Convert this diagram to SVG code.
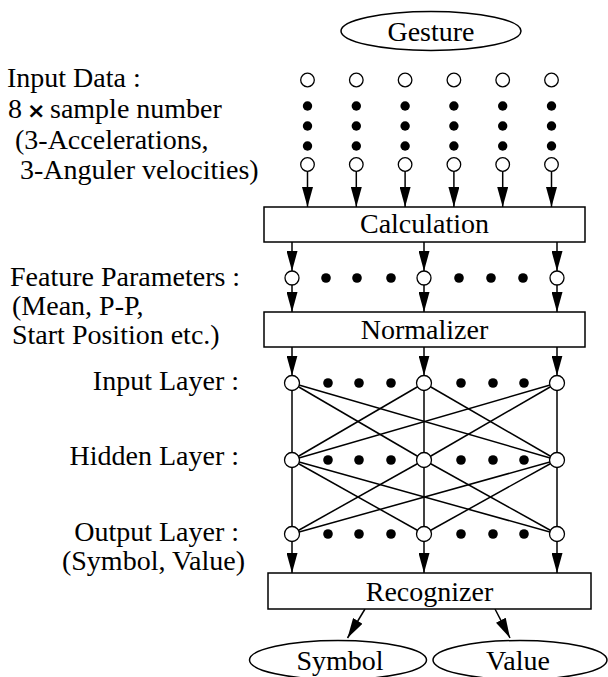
<svg xmlns="http://www.w3.org/2000/svg" width="608" height="677" viewBox="0 0 608 677">
<style>
text{font-family:"Liberation Serif","Times New Roman","DejaVu Serif",serif;font-size:28px;fill:#000}
.x{font-family:"DejaVu Sans",sans-serif;font-weight:bold;font-size:22px}
.c{text-anchor:middle}
.e{text-anchor:end}
.box{fill:#fff;stroke:#000;stroke-width:1.5}
.ell{fill:#fff;stroke:#000;stroke-width:1.5}
.o{fill:#fff;stroke:#000;stroke-width:1.3}
.d{fill:#000}
.ar{stroke:#000;stroke-width:1.5;fill:none;marker-end:url(#ah)}
.ln{stroke:#000;stroke-width:1.5;fill:none}
</style>
<defs>
<marker id="ah" markerUnits="userSpaceOnUse" markerWidth="20" markerHeight="11" refX="20" refY="5.5" orient="auto" viewBox="0 0 20 11">
<path d="M0,0 L20,5.5 L0,11 z" fill="#000"/>
</marker>
</defs>

<g id="labels">
<text x="7" y="87">Input Data :</text>
<text x="8" y="118">8<tspan class="x" x="27">×</tspan><tspan x="50">sample number</tspan></text>
<text x="15" y="149">(3-Accelerations,</text>
<text x="20" y="179">3-Anguler velocities)</text>
<text x="10" y="286">Feature Parameters :</text>
<text x="12" y="315">(Mean, P-P,</text>
<text x="12" y="344">Start Position etc.)</text>
<text class="e" x="239" y="390">Input Layer :</text>
<text class="e" x="239" y="465">Hidden Layer :</text>
<text class="e" x="239" y="541">Output Layer :</text>
<text class="e" x="245" y="570">(Symbol, Value)</text>
</g>

<g id="connectors">
<line class="ar" x1="307.5" y1="171" x2="307.5" y2="207"/>
<line class="ar" x1="356.3" y1="171" x2="356.3" y2="207"/>
<line class="ar" x1="405.1" y1="171" x2="405.1" y2="207"/>
<line class="ar" x1="453.9" y1="171" x2="453.9" y2="207"/>
<line class="ar" x1="502.7" y1="171" x2="502.7" y2="207"/>
<line class="ar" x1="551.5" y1="171" x2="551.5" y2="207"/>
<line class="ar" x1="292" y1="242" x2="292" y2="271"/>
<line class="ar" x1="424" y1="242" x2="424" y2="271"/>
<line class="ar" x1="557" y1="242" x2="557" y2="271"/>
<line class="ar" x1="292" y1="285" x2="292" y2="312"/>
<line class="ar" x1="424" y1="285" x2="424" y2="312"/>
<line class="ar" x1="557" y1="285" x2="557" y2="312"/>
<line class="ar" x1="292" y1="347" x2="292" y2="375.5"/>
<line class="ar" x1="424" y1="347" x2="424" y2="375.5"/>
<line class="ar" x1="557" y1="347" x2="557" y2="375.5"/>
<line class="ln" x1="292" y1="383" x2="292" y2="460"/>
<line class="ln" x1="292" y1="383" x2="424" y2="460"/>
<line class="ln" x1="292" y1="383" x2="557" y2="460"/>
<line class="ln" x1="424" y1="383" x2="292" y2="460"/>
<line class="ln" x1="424" y1="383" x2="424" y2="460"/>
<line class="ln" x1="424" y1="383" x2="557" y2="460"/>
<line class="ln" x1="557" y1="383" x2="292" y2="460"/>
<line class="ln" x1="557" y1="383" x2="424" y2="460"/>
<line class="ln" x1="557" y1="383" x2="557" y2="460"/>
<line class="ln" x1="292" y1="460" x2="292" y2="534"/>
<line class="ln" x1="292" y1="460" x2="424" y2="534"/>
<line class="ln" x1="292" y1="460" x2="557" y2="534"/>
<line class="ln" x1="424" y1="460" x2="292" y2="534"/>
<line class="ln" x1="424" y1="460" x2="424" y2="534"/>
<line class="ln" x1="424" y1="460" x2="557" y2="534"/>
<line class="ln" x1="557" y1="460" x2="292" y2="534"/>
<line class="ln" x1="557" y1="460" x2="424" y2="534"/>
<line class="ln" x1="557" y1="460" x2="557" y2="534"/>
<line class="ar" x1="292" y1="541" x2="292" y2="573"/>
<line class="ar" x1="424" y1="541" x2="424" y2="573"/>
<line class="ar" x1="557" y1="541" x2="557" y2="573"/>
<line class="ar" x1="365" y1="609" x2="347.5" y2="638"/>
<line class="ar" x1="495" y1="609" x2="510" y2="638"/>
</g>

<g id="gesture">
<ellipse class="ell" cx="431" cy="31" rx="90" ry="19.5"/>
<text class="c" x="431" y="41">Gesture</text>
</g>

<g id="input-data">
<g class="o">
<circle cx="307.5" cy="80" r="6.8"/><circle cx="356.3" cy="80" r="6.8"/><circle cx="405.1" cy="80" r="6.8"/>
<circle cx="453.9" cy="80" r="6.8"/><circle cx="502.7" cy="80" r="6.8"/><circle cx="551.5" cy="80" r="6.8"/>
<circle cx="307.5" cy="164.5" r="6.8"/><circle cx="356.3" cy="164.5" r="6.8"/><circle cx="405.1" cy="164.5" r="6.8"/>
<circle cx="453.9" cy="164.5" r="6.8"/><circle cx="502.7" cy="164.5" r="6.8"/><circle cx="551.5" cy="164.5" r="6.8"/>
</g>
<g class="d">
<circle cx="307.5" cy="106" r="4.7"/><circle cx="356.3" cy="106" r="4.7"/><circle cx="405.1" cy="106" r="4.7"/>
<circle cx="453.9" cy="106" r="4.7"/><circle cx="502.7" cy="106" r="4.7"/><circle cx="551.5" cy="106" r="4.7"/>
<circle cx="307.5" cy="126" r="4.7"/><circle cx="356.3" cy="126" r="4.7"/><circle cx="405.1" cy="126" r="4.7"/>
<circle cx="453.9" cy="126" r="4.7"/><circle cx="502.7" cy="126" r="4.7"/><circle cx="551.5" cy="126" r="4.7"/>
<circle cx="307.5" cy="146" r="4.7"/><circle cx="356.3" cy="146" r="4.7"/><circle cx="405.1" cy="146" r="4.7"/>
<circle cx="453.9" cy="146" r="4.7"/><circle cx="502.7" cy="146" r="4.7"/><circle cx="551.5" cy="146" r="4.7"/>
</g>
</g>

<g id="calculation">
<rect class="box" x="264" y="207" width="321" height="35"/>
<text class="c" x="424.5" y="233">Calculation</text>
</g>

<g id="features">
<g class="o">
<circle cx="292" cy="278" r="7"/><circle cx="424" cy="278" r="7"/><circle cx="557" cy="278" r="7"/>
</g>
<g class="d">
<circle cx="326" cy="278" r="4.8"/><circle cx="357" cy="278" r="4.8"/><circle cx="391" cy="278" r="4.8"/>
<circle cx="459" cy="278" r="4.8"/><circle cx="491" cy="278" r="4.8"/><circle cx="523" cy="278" r="4.8"/>
</g>
</g>

<g id="normalizer">
<rect class="box" x="264" y="312" width="321" height="35"/>
<text class="c" x="424.5" y="339">Normalizer</text>
</g>

<g id="input-layer">
<g class="o"><circle cx="292" cy="383" r="7.5"/><circle cx="424" cy="383" r="7.5"/><circle cx="557" cy="383" r="7.5"/></g>
<g class="d"><circle cx="328" cy="383" r="4.8"/><circle cx="359" cy="383" r="4.8"/><circle cx="391" cy="383" r="4.8"/>
<circle cx="461" cy="383" r="4.8"/><circle cx="493" cy="383" r="4.8"/><circle cx="524" cy="383" r="4.8"/></g>
</g>

<g id="hidden-layer">
<g class="o"><circle cx="292" cy="460" r="7.5"/><circle cx="424" cy="460" r="7.5"/><circle cx="557" cy="460" r="7.5"/></g>
<g class="d"><circle cx="328" cy="460" r="4.8"/><circle cx="359" cy="460" r="4.8"/><circle cx="391" cy="460" r="4.8"/>
<circle cx="461" cy="460" r="4.8"/><circle cx="493" cy="460" r="4.8"/><circle cx="524" cy="460" r="4.8"/></g>
</g>

<g id="output-layer">
<g class="o"><circle cx="292" cy="534" r="7.5"/><circle cx="424" cy="534" r="7.5"/><circle cx="557" cy="534" r="7.5"/></g>
<g class="d"><circle cx="328" cy="534" r="4.8"/><circle cx="359" cy="534" r="4.8"/><circle cx="391" cy="534" r="4.8"/>
<circle cx="461" cy="534" r="4.8"/><circle cx="493" cy="534" r="4.8"/><circle cx="524" cy="534" r="4.8"/></g>
</g>

<g id="recognizer">
<rect class="box" x="268" y="573" width="323" height="36"/>
<text class="c" x="429.5" y="601">Recognizer</text>
</g>

<g id="symbol">
<ellipse class="ell" cx="338" cy="660" rx="88.5" ry="19.5"/>
<text class="c" x="340" y="670">Symbol</text>
</g>

<g id="value">
<ellipse class="ell" cx="520" cy="660" rx="87" ry="19.5"/>
<text class="c" x="518" y="670">Value</text>
</g>
</svg>
